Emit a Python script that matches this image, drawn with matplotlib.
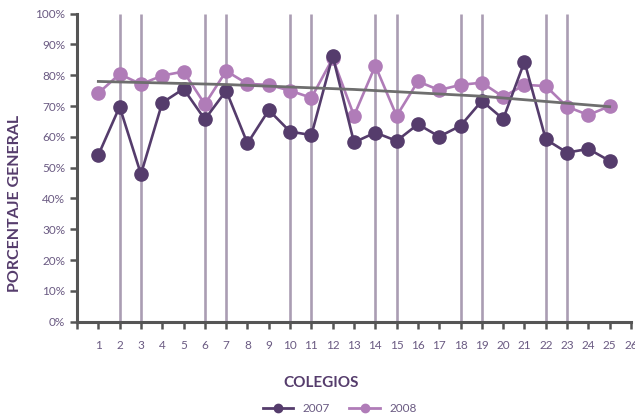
import numpy as np
import matplotlib.pyplot as plt
from matplotlib.lines import Line2D

# values (percent)
colegios = list(range(1, 26))
y2007 = [54.1, 69.8, 47.9, 71.1, 75.6, 65.7, 75.0, 57.9, 68.7, 61.7,
         60.6, 86.3, 58.2, 61.4, 58.7, 64.1, 60.1, 63.6, 71.7, 65.8,
         84.4, 59.2, 54.9, 56.1, 52.2]
y2008 = [74.2, 80.4, 77.1, 79.9, 81.2, 70.6, 81.4, 77.2, 76.9, 75.0,
         72.7, 85.5, 66.9, 83.1, 66.8, 78.0, 75.2, 76.9, 77.6, 73.0,
         76.9, 76.5, 69.8, 67.1, 70.0]
trend_x = [1, 7, 13, 19, 25]
trend_y = [78.0, 77.0, 75.4, 73.2, 69.8]
marked = [2, 3, 6, 7, 10, 11, 14, 15, 18, 19, 22, 23]

DARK = "#553c6c"
LIGHT = "#b07cb8"
VLINE = "#aa9db3"
AXIS = "#555555"
TXT = "#6a5a82"

plt.rcParams["font.family"] = ["Lato", "DejaVu Sans"]

fig = plt.figure(figsize=(6.35, 4.16), dpi=100)
ax = fig.add_axes([0.1213, 0.2267, 0.8724, 0.7404])

ax.vlines(marked, 0, 100, color=VLINE, lw=1.9, zorder=1)
ax.plot(colegios, y2007, color=DARK, lw=1.9, marker="o", ms=9.5, zorder=3)
ax.plot(colegios, y2008, color=LIGHT, lw=1.9, marker="o", ms=9.5, zorder=2)
ax.plot(trend_x, trend_y, color="#6e6e6e", lw=2, zorder=4)

ax.set_xlim(0, 26)
ax.set_ylim(0, 100)
ax.set_xticks(range(0, 27))
ax.set_xticklabels([""] + [str(i) for i in range(1, 27)])
ax.set_yticks(range(0, 101, 10))
ax.set_yticklabels([f"{v}%" for v in range(0, 101, 10)])
ax.tick_params(axis="both", colors=AXIS, width=1.8, length=5,
               labelcolor=TXT, labelsize=8.5)
ax.tick_params(axis="x", pad=8)
for side in ["top", "right"]:
    ax.spines[side].set_visible(False)
for side in ["left", "bottom"]:
    ax.spines[side].set_color(AXIS)
    ax.spines[side].set_linewidth(2.2)

fig.text(0.024, 0.51, "PORCENTAJE GENERAL", rotation=90, ha="center",
         va="center", color=DARK, fontsize=11.5, fontweight="bold")
fig.text(0.505, 0.08, "COLEGIOS", ha="center", va="center", color=DARK,
         fontsize=11, fontweight="bold")

handles = [Line2D([], [], color=DARK, lw=2, marker="o", ms=6),
           Line2D([], [], color=LIGHT, lw=2, marker="o", ms=6)]
leg = fig.legend(handles, ["2007", "2008"], loc="center",
                 bbox_to_anchor=(0.535, 0.018), ncol=2, frameon=False,
                 fontsize=8.5, handlelength=2.6, columnspacing=1.6)
for t in leg.get_texts():
    t.set_color(TXT)

fig.savefig("out.png", dpi=100)
